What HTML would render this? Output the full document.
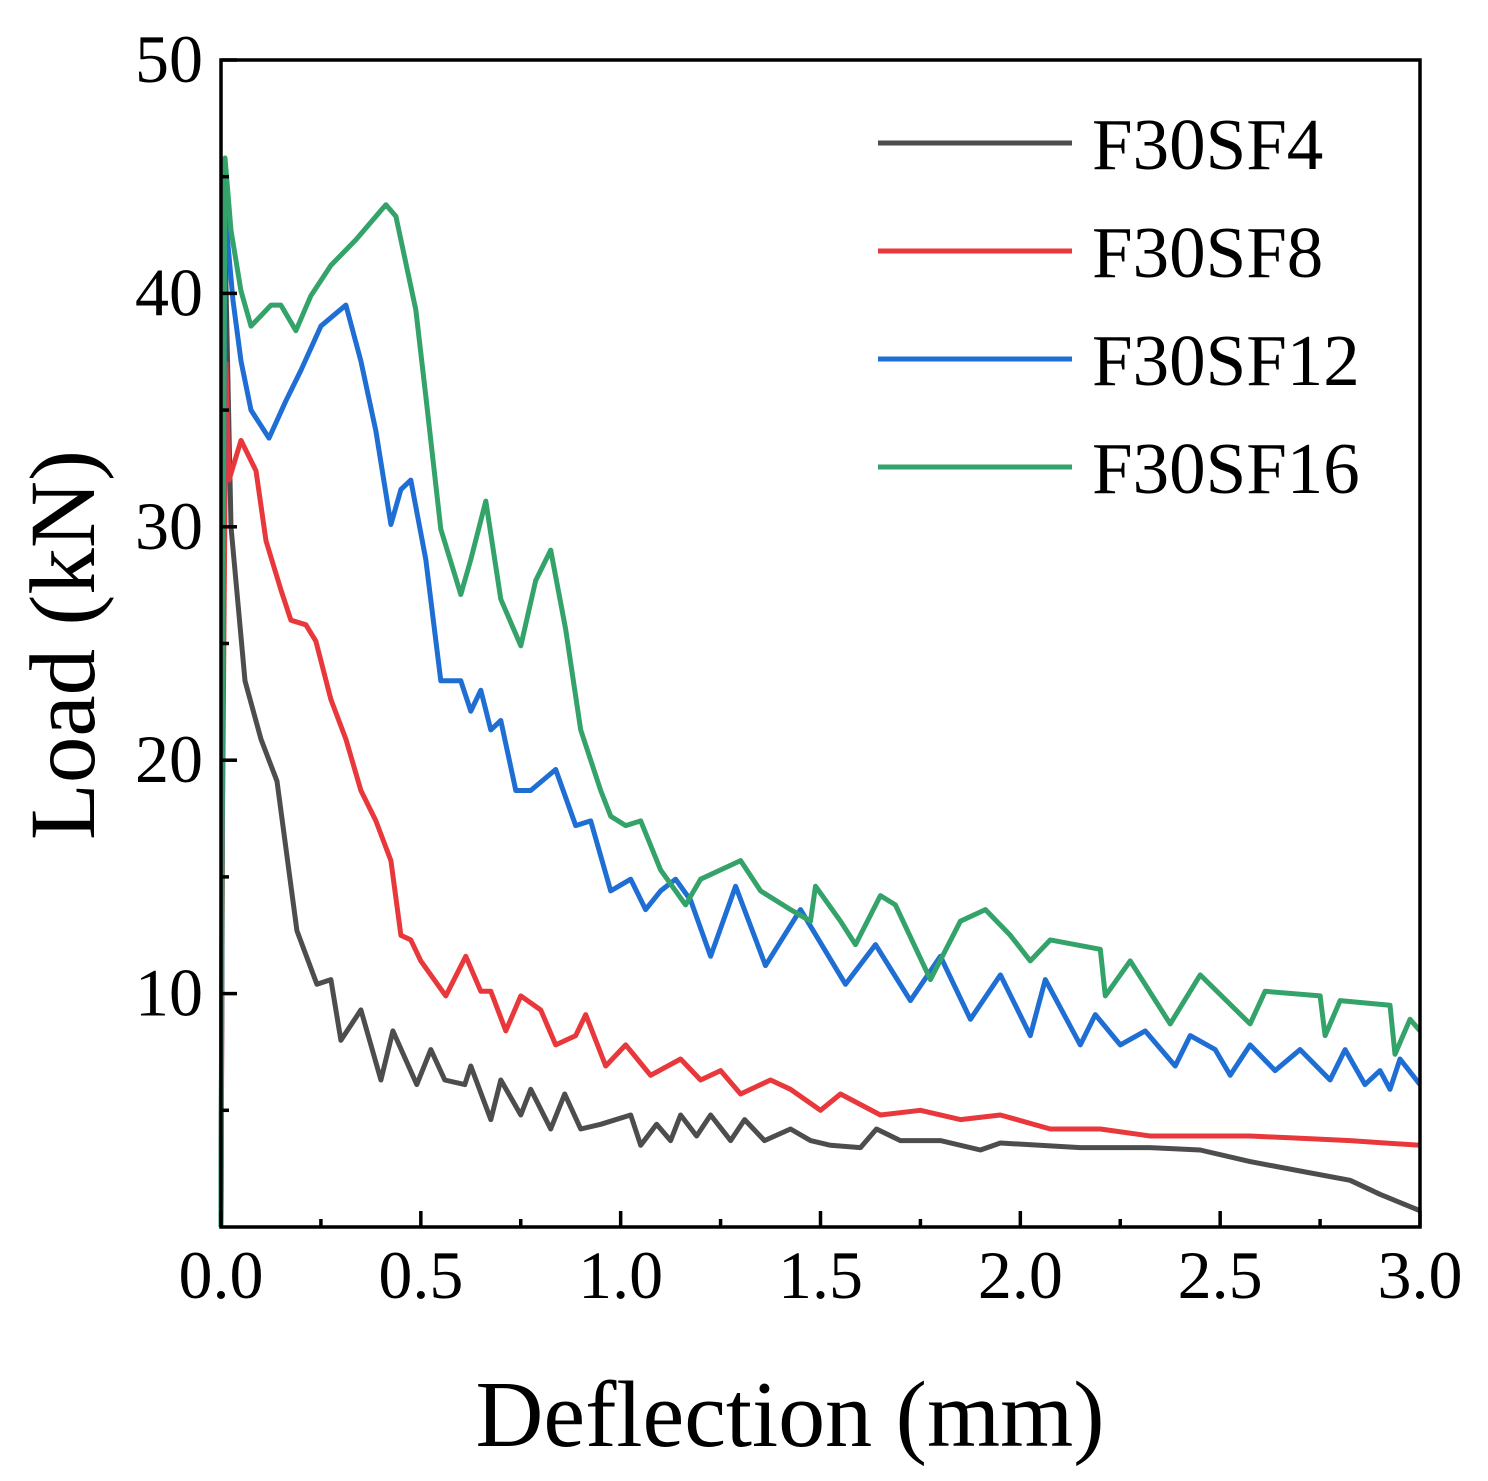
<!DOCTYPE html>
<html><head><meta charset="utf-8"><style>
body{margin:0;background:#fff}
svg{display:block}
text{font-family:"Liberation Serif",serif;fill:#000}
</style></head><body>
<svg id="chart" width="1488" height="1481" xmlns="http://www.w3.org/2000/svg">
<g id="series"></g>
<g id="axes"></g>
<g id="legend"></g>
<text x="790" y="1446" font-size="94" text-anchor="middle">Deflection (mm)</text>
<text transform="translate(94,645) rotate(-90)" font-size="93" text-anchor="middle">Load (kN)</text>
</svg>
<script>
const xTicks=["0.0","0.5","1.0","1.5","2.0","2.5","3.0"];
const yTicks=["10","20","30","40","50"];
const seriesNames=["F30SF4","F30SF8","F30SF12","F30SF16"];
const seriesColors=["#4d4d4d","#e8383b","#1f6ed4","#34a36a"];
const sf4X=[0,0.004,0.008,0.025,0.06,0.1,0.14,0.19,0.24,0.275,0.3,0.35,0.4,0.43,0.49,0.525,0.56,0.61,0.625,0.675,0.7,0.75,0.775,0.825,0.86,0.9,0.95,1.025,1.05,1.09,1.125,1.15,1.19,1.225,1.275,1.31,1.36,1.425,1.475,1.525,1.6,1.64,1.7,1.8,1.9,1.95,2.15,2.325,2.45,2.575,2.7,2.825,2.9,3.0];
const sf4Y=[0,20,44,30,23.4,20.9,19.1,12.7,10.4,10.6,8,9.3,6.3,8.4,6.1,7.6,6.3,6.1,6.9,4.6,6.3,4.8,5.9,4.2,5.7,4.2,4.4,4.8,3.5,4.4,3.7,4.8,3.9,4.8,3.7,4.6,3.7,4.2,3.7,3.5,3.4,4.2,3.7,3.7,3.3,3.6,3.4,3.4,3.3,2.8,2.4,2.0,1.4,0.7];
const sf8X=[0,0.004,0.0125,0.02,0.05,0.0875,0.1125,0.15,0.175,0.2125,0.2375,0.275,0.3125,0.35,0.3875,0.425,0.45,0.475,0.5,0.525,0.5625,0.6125,0.65,0.675,0.7125,0.75,0.8,0.8375,0.8875,0.9125,0.9625,1.0125,1.075,1.15,1.2,1.25,1.3,1.375,1.425,1.5,1.55,1.65,1.75,1.85,1.95,2.075,2.2,2.325,2.45,2.575,2.7,2.825,3.0];
const sf8Y=[0,18,37,32,33.7,32.4,29.4,27.3,26,25.8,25.1,22.6,20.9,18.7,17.4,15.7,12.5,12.3,11.4,10.8,9.9,11.6,10.1,10.1,8.4,9.9,9.3,7.8,8.2,9.1,6.9,7.8,6.5,7.2,6.3,6.7,5.7,6.3,5.9,5.0,5.7,4.8,5.0,4.6,4.8,4.2,4.2,3.9,3.9,3.9,3.8,3.7,3.5];
const sf12X=[0,0.004,0.01,0.03,0.05,0.075,0.12,0.1625,0.2,0.25,0.3125,0.35,0.3875,0.425,0.45,0.475,0.5125,0.55,0.6,0.625,0.65,0.675,0.7,0.7375,0.775,0.8375,0.8875,0.925,0.975,1.025,1.0625,1.1,1.1375,1.175,1.225,1.2875,1.3625,1.45,1.5625,1.6375,1.725,1.8,1.875,1.95,2.025,2.0625,2.15,2.1875,2.25,2.3125,2.3875,2.425,2.4875,2.525,2.575,2.6375,2.7,2.775,2.8125,2.8625,2.9,2.925,2.95,3.0];
const sf12Y=[0,22,43.5,39.7,37.1,35,33.8,35.4,36.7,38.6,39.5,37.1,34.1,30.1,31.6,32,28.6,23.4,23.4,22.1,23,21.3,21.7,18.7,18.7,19.6,17.2,17.4,14.4,14.9,13.6,14.4,14.9,14,11.6,14.6,11.2,13.6,10.4,12.1,9.7,11.6,8.9,10.8,8.2,10.6,7.8,9.1,7.8,8.4,6.9,8.2,7.6,6.5,7.8,6.7,7.6,6.3,7.6,6.1,6.7,5.9,7.2,6.1];
const sf16X=[0,0.004,0.01,0.025,0.05,0.075,0.125,0.15,0.1875,0.225,0.275,0.3375,0.4125,0.4375,0.4875,0.5125,0.55,0.6,0.625,0.6625,0.7,0.75,0.7875,0.825,0.8625,0.9,0.95,0.975,1.0125,1.05,1.1,1.1625,1.2,1.25,1.3,1.35,1.425,1.475,1.4875,1.55,1.5875,1.65,1.6875,1.775,1.85,1.9125,1.975,2.025,2.075,2.2,2.2125,2.275,2.375,2.45,2.575,2.6125,2.75,2.7625,2.8,2.925,2.9375,2.975,3.0];
const sf16Y=[0,24,45.8,42.7,40.1,38.6,39.5,39.5,38.4,39.9,41.2,42.3,43.8,43.3,39.3,35.6,29.9,27.1,28.6,31.1,26.9,24.9,27.7,29,25.6,21.3,18.7,17.6,17.2,17.4,15.3,13.8,14.9,15.3,15.7,14.4,13.6,13.1,14.6,13.1,12.1,14.2,13.8,10.6,13.1,13.6,12.5,11.4,12.3,11.9,9.9,11.4,8.7,10.8,8.7,10.1,9.9,8.2,9.7,9.5,7.4,8.9,8.4];
const seriesX=[sf4X,sf8X,sf12X,sf16X];
const seriesY=[sf4Y,sf8Y,sf12Y,sf16Y];

const NS="http://www.w3.org/2000/svg";
const L=221,R=1420,T=60,B=1227;
const xMin=0,xMax=3,yMin=0,yMax=50;
function sx(v){return L+(v-xMin)/(xMax-xMin)*(R-L);}
function sy(v){return B-(v-yMin)/(yMax-yMin)*(B-T);}
function mk(tag,attrs,parent){const e=document.createElementNS(NS,tag);for(const k in attrs)e.setAttribute(k,attrs[k]);parent.appendChild(e);return e;}

const sg=document.getElementById('series');
seriesX.forEach((xs,i)=>{
  const d=xs.map((x,j)=>(j?'L':'M')+sx(x).toFixed(1)+','+sy(seriesY[i][j]).toFixed(1)).join('');
  const p=mk('path',{d:d,fill:'none',stroke:seriesColors[i],'stroke-width':5,'stroke-linejoin':'round'},sg);
  
  
});

const ax=document.getElementById('axes');
const frame=mk('rect',{x:L,y:T,width:R-L,height:B-T,fill:'none',stroke:'#000','stroke-width':3.5},ax);


xTicks.forEach((t,i)=>{
  const v=parseFloat(t),x=sx(v);
  const tk=mk('line',{x1:x,y1:B,x2:x,y2:B-16,stroke:'#000','stroke-width':3.5},ax);
  
  
  if(i<xTicks.length-1){const xm=sx(v+0.25);
    const mt=mk('line',{x1:xm,y1:B,x2:xm,y2:B-8,stroke:'#000','stroke-width':3.5},ax);
    
    }
  const tx=mk('text',{x:x,y:1298,'font-size':68,'text-anchor':'middle'},ax);tx.textContent=t;
  
  
});
[5,15,25,35,45].forEach(v=>{
  const mt=mk('line',{x1:L,y1:sy(v),x2:L+8,y2:sy(v),stroke:'#000','stroke-width':3.5},ax);
  
  
});
yTicks.forEach(t=>{
  const v=parseFloat(t),y=sy(v);
  const tk=mk('line',{x1:L,y1:y,x2:L+16,y2:y,stroke:'#000','stroke-width':3.5},ax);
  
  
  const tx=mk('text',{x:203,y:y+22,'font-size':68,'text-anchor':'end'},ax);tx.textContent=t;
  
  
});

const lg=document.getElementById('legend');
seriesNames.forEach((n,i)=>{
  const y=143+i*108;
  const ln=mk('line',{x1:878,y1:y,x2:1072,y2:y,stroke:seriesColors[i],'stroke-width':5},lg);
  
  
  const tx=mk('text',{x:1092,y:y+26,'font-size':73},lg);tx.textContent=n;
  
  
});
</script>
</body></html>
